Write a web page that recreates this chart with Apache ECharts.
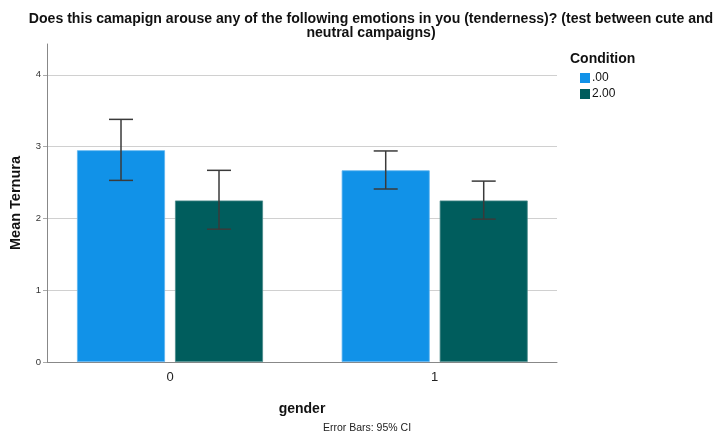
<!DOCTYPE html>
<html>
<head>
<meta charset="utf-8">
<style>html,body{margin:0;padding:0;background:#fff}#chart{width:722px;height:432px}</style>
<script src="https://cdn.jsdelivr.net/npm/echarts@6/dist/echarts.min.js"></script>
</head>
<body>
<div id="chart"></div>
<script>
// gender groups on the x axis
const genders = [0, 1];
// Condition series: mean and 95% CI bounds per gender
const condNames = ['.00', '2.00'];
const meanCond0 = [2.95, 2.67];
const lowCond0 = [2.53, 2.41];
const highCond0 = [3.38, 2.94];
const meanCond2 = [2.25, 2.25];
const lowCond2 = [1.85, 1.99];
const highCond2 = [2.67, 2.52];
const yTicks = [0, 1, 2, 3, 4];

const colors = ['#1192e8', '#005d5d'];
const BAR_W = 88, BAR_GAP = 10;
const halfStep = (BAR_W + BAR_GAP) / 2;

function barData(vals) { return genders.map((g, i) => [g, vals[i]]); }
function ciData(lo, hi) { return genders.map((g, i) => [g, lo[i], hi[i]]); }

function ciRenderer(shift) {
  return function (params, api) {
    const x = api.value(0);
    const top = api.coord([x, api.value(2)]);
    const bot = api.coord([x, api.value(1)]);
    const cx = top[0] + shift;
    const cap = 12;
    const style = { stroke: '#3a3a3a', lineWidth: 1.5 };
    return {
      type: 'group',
      children: [
        { type: 'line', shape: { x1: cx, y1: top[1], x2: cx, y2: bot[1] }, style },
        { type: 'line', shape: { x1: cx - cap, y1: top[1], x2: cx + cap, y2: top[1] }, style },
        { type: 'line', shape: { x1: cx - cap, y1: bot[1], x2: cx + cap, y2: bot[1] }, style }
      ]
    };
  };
}

const chart = echarts.init(document.getElementById('chart'));
chart.setOption({
  animation: false,
  textStyle: { fontFamily: 'Liberation Sans, Arial, sans-serif' },
  title: [
    {
      text: 'Does this camapign arouse any of the following emotions in you (tenderness)? (test between cute and\nneutral campaigns)',
      left: 366, top: 7, textAlign: 'center',
      textStyle: { fontSize: 14.1, fontWeight: 'bold', color: '#111', lineHeight: 14 }
    },
    {
      text: 'Condition', left: 565, top: 47,
      textStyle: { fontSize: 14, fontWeight: 'bold', color: '#111' }
    },
    {
      text: 'Error Bars: 95% CI', left: 362, top: 418, textAlign: 'center',
      textStyle: { fontSize: 10.5, fontWeight: 'normal', color: '#222' }
    }
  ],
  legend: {
    orient: 'vertical', left: 575, top: 67, itemWidth: 10, itemHeight: 10, itemGap: 4,
    icon: 'rect',
    itemStyle: { borderWidth: 0 },
    data: condNames,
    textStyle: { fontSize: 12, color: '#111', padding: [0, 0, 0, -3] }
  },
  grid: { left: 47, right: 165, top: 44, bottom: 70, outerBoundsMode: 'none', containLabel: false },
  xAxis: {
    type: 'value', min: -0.4647, max: 1.462,
    name: 'gender', nameLocation: 'middle', nameGap: 40,
    nameTextStyle: { fontSize: 14, fontWeight: 'bold', color: '#111' },
    axisLine: { show: true, onZero: false, lineStyle: { color: '#888', width: 1 } },
    axisTick: { show: false },
    axisLabel: { customValues: genders, fontSize: 13, color: '#222', margin: 9 },
    splitLine: { show: false }
  },
  yAxis: {
    type: 'value', min: 0, max: 4.43,
    name: 'Mean Ternura', nameLocation: 'middle', nameGap: 24,
    nameTextStyle: { fontSize: 14.5, fontWeight: 'bold', color: '#111' },
    axisLine: { show: true, onZero: false, lineStyle: { color: '#888', width: 1 } },
    axisTick: { show: true, customValues: yTicks, length: 4, lineStyle: { color: '#aaa' } },
    axisLabel: { customValues: yTicks, fontSize: 9.5, color: '#333', margin: 6 },
    splitLine: { show: true, lineStyle: { color: '#d0d0d0', width: 1 } }
  },
  series: [
    {
      name: condNames[0], type: 'bar', data: barData(meanCond0),
      barWidth: BAR_W, barGap: (BAR_GAP / BAR_W * 100) + '%',
      itemStyle: { color: colors[0], borderColor: '#5db4f0', borderWidth: 0.8 }
    },
    {
      name: condNames[1], type: 'bar', data: barData(meanCond2),
      barWidth: BAR_W,
      itemStyle: { color: colors[1], borderColor: '#4a8a8a', borderWidth: 0.8 }
    },
    {
      type: 'custom', data: ciData(lowCond0, highCond0), renderItem: ciRenderer(-halfStep),
      encode: { x: 0, y: [1, 2] }, z: 5, silent: true
    },
    {
      type: 'custom', data: ciData(lowCond2, highCond2), renderItem: ciRenderer(halfStep),
      encode: { x: 0, y: [1, 2] }, z: 5, silent: true
    }
  ]
});
</script>
</body>
</html>
